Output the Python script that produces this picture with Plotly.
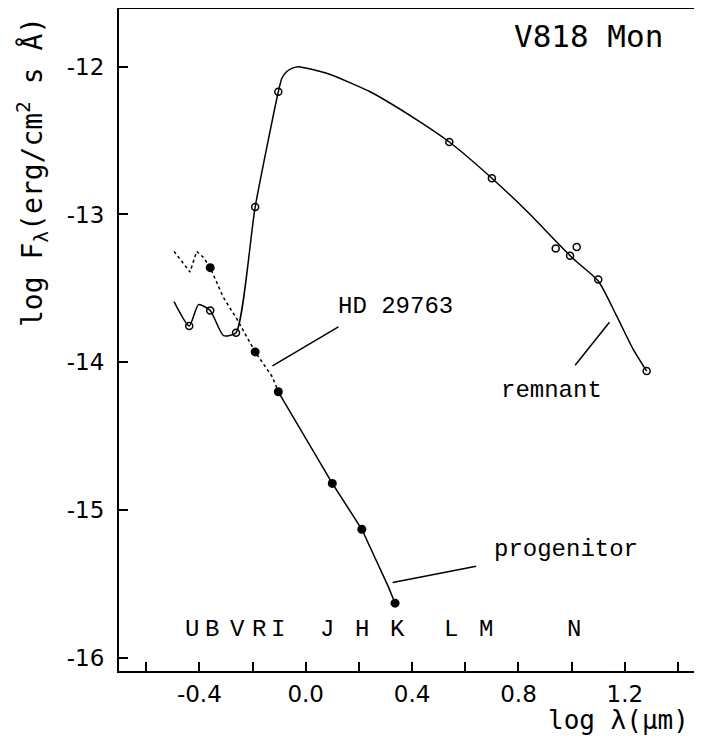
import plotly.graph_objects as go

# ---- data (log lambda in micron, log F_lambda) ----
rem_pts_x = [-0.438, -0.359, -0.262, -0.190, -0.103, 0.540, 0.700, 0.940, 0.994, 1.019, 1.100, 1.282]
rem_pts_y = [-13.755, -13.65, -13.80, -12.95, -12.17, -12.51, -12.755, -13.23, -13.28, -13.22, -13.44, -14.06]

rem_curve_x = [-0.495, -0.438, -0.403, -0.359, -0.309, -0.262, -0.190, -0.103, -0.090, -0.072, -0.050, -0.027,
               0.079, 0.242, 0.418, 0.540, 0.700, 0.844, 0.900, 1.006, 1.100, 1.170, 1.232, 1.282]
rem_curve_y = [-13.59, -13.755, -13.61, -13.65, -13.82, -13.80, -12.95, -12.17, -12.08, -12.035, -12.01, -12.00,
               -12.045, -12.17, -12.36, -12.51, -12.755, -13.00, -13.105, -13.30, -13.45, -13.69, -13.915, -14.06]

prog_pts_x = [-0.359, -0.190, -0.103, 0.100, 0.211, 0.336]
prog_pts_y = [-13.36, -13.93, -14.20, -14.82, -15.13, -15.63]

prog_line_x = [-0.103, 0.100, 0.211, 0.311, 0.336]
prog_line_y = [-14.20, -14.82, -15.13, -15.52, -15.63]

hd_x = [-0.495, -0.435, -0.410, -0.385, -0.359, -0.310, -0.258, -0.190, -0.125, -0.103]
hd_y = [-13.25, -13.39, -13.25, -13.29, -13.36, -13.56, -13.71, -13.93, -14.10, -14.20]

band_labels = ["U", "B", "V", "R", "I", "J", "H", "K", "L", "M", "N"]
band_x = [-0.428, -0.353, -0.257, -0.176, -0.104, 0.079, 0.213, 0.345, 0.545, 0.677, 1.010]
band_y = -15.807

x_major = [-0.4, 0.0, 0.4, 0.8, 1.2]
x_major_text = ["-0.4", "0.0", "0.4", "0.8", "1.2"]
x_minor = [-0.6, -0.2, 0.2, 0.6, 1.0, 1.4]
y_tickvals = [-16, -15, -14, -13, -12]
y_ticktext = ["-16", "-15", "-14", "-13", "-12"]

# leader lines for labels: (x0, y0, x1, y1)
leader_hd = [-0.125, -14.025, 0.123, -13.76]
leader_prog = [0.327, -15.49, 0.641, -15.38]
leader_rem = [1.013, -14.02, 1.142, -13.73]

MONO = "Liberation Mono, DejaVu Sans Mono, monospace"
SMONO = "DejaVu Sans Mono, monospace"
SANS = "DejaVu Sans, Verdana, sans-serif"

W, H = 686, 731
ML, MR, MT, MB = 111, 0, 1, 68
PW, PH = W - ML - MR, H - MT - MB

def px(xp):
    return (xp - ML) / PW

def py(yp):
    return (H - MB - yp) / PH

fig = go.Figure()
fig.add_trace(go.Scatter(x=hd_x, y=hd_y, mode="lines",
                         line=dict(color="black", width=1.5, dash="dot"), hoverinfo="skip"))
fig.add_trace(go.Scatter(x=rem_curve_x, y=rem_curve_y, mode="lines",
                         line=dict(color="black", width=1.5, shape="spline", smoothing=0.6), hoverinfo="skip"))
fig.add_trace(go.Scatter(x=prog_line_x, y=prog_line_y, mode="lines",
                         line=dict(color="black", width=1.5), hoverinfo="skip"))
fig.add_trace(go.Scatter(x=rem_pts_x, y=rem_pts_y, mode="markers",
                         marker=dict(symbol="circle-open", size=7, color="black", line=dict(width=1.5))))
fig.add_trace(go.Scatter(x=prog_pts_x, y=prog_pts_y, mode="markers",
                         marker=dict(symbol="circle", size=9, color="black")))

for L in (leader_hd, leader_prog, leader_rem):
    fig.add_shape(type="line", x0=L[0], y0=L[1], x1=L[2], y1=L[3],
                  line=dict(color="black", width=1.5), xref="x", yref="y")

for lab, bx in zip(band_labels, band_x):
    fig.add_annotation(x=bx, y=band_y, text=lab, showarrow=False,
                       font=dict(family=MONO, size=24, color="black"))

fig.add_annotation(x=0.114, y=-13.62, text="HD 29763", showarrow=False, xanchor="left",
                   font=dict(family=MONO, size=24, color="black"))
fig.add_annotation(x=0.925, y=-14.194, text="remnant", showarrow=False,
                   font=dict(family=MONO, size=24, color="black"))
fig.add_annotation(x=0.700, y=-15.27, text="progenitor", showarrow=False, xanchor="left",
                   font=dict(family=MONO, size=24, color="black"))

# title
fig.add_annotation(xref="paper", yref="paper", x=px(580), y=py(27.7), xanchor="center", yanchor="middle",
                   text="V818 Mon", showarrow=False,
                   font=dict(family=SMONO, size=31, color="black"))

# axis titles as annotations
fig.add_annotation(xref="paper", yref="paper", x=px(683), y=py(712), xanchor="right", yanchor="middle",
                   text="log λ(µm)", showarrow=False,
                   font=dict(family=SMONO, size=26, color="black"))
fig.add_annotation(xref="paper", yref="paper", x=px(24), y=py(164),
                   xanchor="center", yanchor="middle", textangle=-90,
                   text="log F<sub>λ</sub>(erg/cm<sup>2</sup> s Å)", showarrow=False,
                   font=dict(family=SMONO, size=28, color="black"))

fig.update_layout(
    width=W, height=H,
    margin=dict(l=ML, r=MR, t=MT, b=MB, pad=0),
    paper_bgcolor="white", plot_bgcolor="white",
    showlegend=False,
    xaxis=dict(range=[-0.702, 1.460], tickvals=x_major, ticktext=x_major_text,
               ticks="inside", ticklen=9, tickwidth=1.5, tickcolor="black",
               minor=dict(tickvals=x_minor, ticks="inside", ticklen=9, tickwidth=1.5, tickcolor="black"),
               showline=True, linecolor="black", linewidth=2, mirror=True,
               showgrid=False, zeroline=False, ticklabelstandoff=1,
               tickfont=dict(family=SANS, size=23, color="black")),
    yaxis=dict(range=[-16.089, -11.610], tickvals=y_tickvals, ticktext=y_ticktext,
               ticks="inside", ticklen=9, tickwidth=1.5, tickcolor="black",
               showline=True, linecolor="black", linewidth=2,
               showgrid=False, zeroline=False, ticklabelstandoff=8,
               tickfont=dict(family=SANS, size=23, color="black")),
)

fig.write_html("out.html")
